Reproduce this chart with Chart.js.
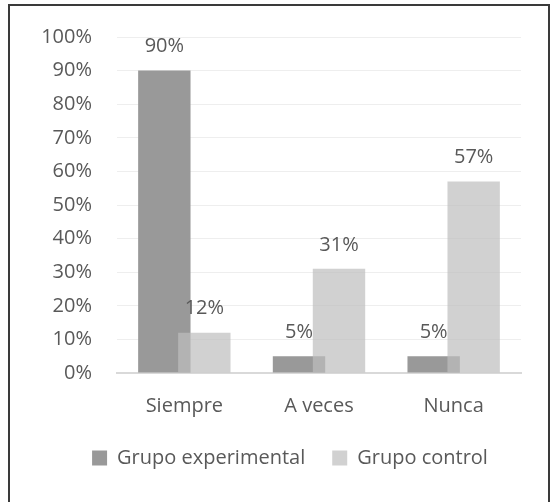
<!DOCTYPE html>
<html>
<head>
<meta charset="utf-8">
<script src="https://cdn.jsdelivr.net/npm/chart.js@4"></script>
<style>
  html, body { margin: 0; padding: 0; background: #fff; }
  #wrap { position: relative; width: 551px; height: 502px; }
</style>
</head>
<body>
<div id="wrap">
  <canvas id="myChart" width="551" height="502"></canvas>
</div>
<script>
const categories = ['Siempre', 'A veces', 'Nunca'];
const experimental = [90, 5, 5];
const control = [12, 31, 57];
const seriesNames = ['Grupo experimental', 'Grupo control'];

Chart.defaults.font.family = "'Open Sans', sans-serif";
Chart.defaults.font.size = 20;
Chart.defaults.color = '#595959';

// light bar sits on top of the dark one, and value labels above each bar
const overlapAndLabels = {
    id: 'overlapAndLabels',
    beforeDraw(chart) {
        const ctx = chart.ctx;
        ctx.save();
        ctx.fillStyle = '#fff';
        ctx.fillRect(0, 0, chart.width, chart.height);
        ctx.strokeStyle = '#3a3a3a';
        ctx.lineWidth = 2;
        ctx.strokeRect(9, 5, 540, 600);
        ctx.restore();
    },
    beforeDatasetDraw(chart, args) {
        if (args.index === 1) return false;
    },
    afterDatasetsDraw(chart) {
        chart.getDatasetMeta(1).controller.draw();
        const ctx = chart.ctx;
        ctx.save();
        ctx.font = "20px 'Open Sans', sans-serif";
        ctx.fillStyle = '#595959';
        ctx.textAlign = 'center';
        ctx.textBaseline = 'middle';
        chart.data.datasets.forEach((ds, i) => {
            chart.getDatasetMeta(i).data.forEach((bar, j) => {
                ctx.fillText(ds.data[j] + '%', bar.x, bar.y - 24);
            });
        });
        ctx.restore();
    }
};

const ctx = document.getElementById('myChart').getContext('2d');
new Chart(ctx, {
    type: 'bar',
    data: {
        labels: categories,
        datasets: [
            {
                label: seriesNames[0],
                data: experimental,
                backgroundColor: '#999999',
                categoryPercentage: 0.594,
                barPercentage: 1.31
            },
            {
                label: seriesNames[1],
                data: control,
                backgroundColor: 'rgba(190,190,190,0.7)',
                categoryPercentage: 0.594,
                barPercentage: 1.31
            }
        ]
    },
    options: {
        responsive: false,
        animation: false,
        layout: {
            padding: { left: 30, right: 1, top: 31, bottom: 24 }
        },
        plugins: {
            tooltip: { enabled: false },
            legend: {
                position: 'bottom',
                labels: {
                    boxWidth: 15,
                    boxHeight: 15,
                    padding: 27,
                    color: '#595959',
                    font: { size: 20 }
                }
            }
        },
        scales: {
            x: {
                grid: { display: false },
                border: { color: '#d9d9d9', width: 2 },
                ticks: { padding: 15, color: '#595959', font: { lineHeight: 1 } },
                afterFit(scale) { scale.height = 48; }
            },
            y: {
                min: 0,
                max: 100,
                border: { display: false },
                grid: { color: '#eeeeee', drawTicks: false },
                ticks: {
                    stepSize: 10,
                    padding: 25,
                    color: '#595959',
                    callback: (v) => v + '%'
                },
                afterFit(scale) { scale.width = 87; }
            },
            // empty right margin so the legend centres like the original
            yRight: {
                position: 'right',
                grid: { display: false },
                border: { display: false },
                ticks: { display: false },
                afterFit(scale) { scale.width = 29; }
            }
        }
    },
    plugins: [overlapAndLabels]
});
</script>
</body>
</html>
